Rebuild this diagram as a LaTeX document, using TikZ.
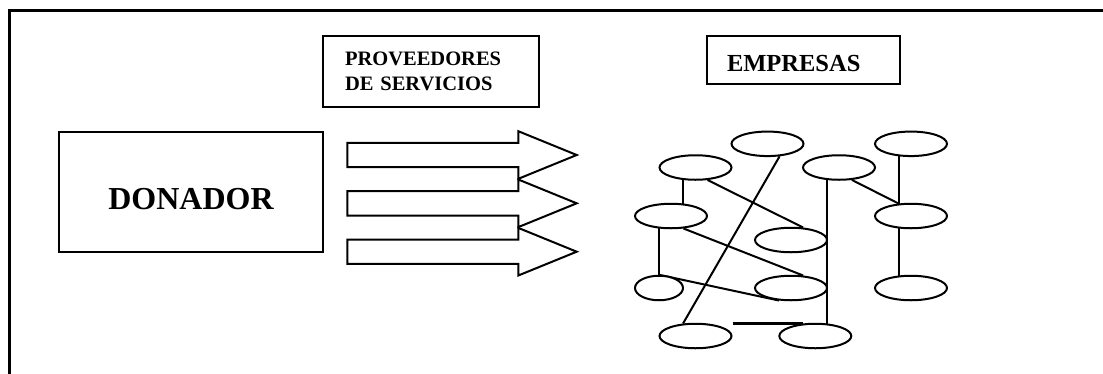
\documentclass[tikz,border=0pt]{standalone}
\usepackage{fontspec}
\setmainfont{Liberation Serif}
\usetikzlibrary{shapes.geometric}
\pgfdeclarelayer{background}
\pgfsetlayers{background,main}

\begin{document}
\begin{tikzpicture}[x=1pt,y=-1pt,
  line width=2pt,
  box/.style={draw, rectangle, inner sep=0pt},
  org/.style={draw, ellipse, fill=white, minimum width=72pt,
    minimum height=24.5pt, inner sep=0pt},
  smallorg/.style={org, minimum width=48pt},
  link/.style={line width=2pt},
  fatarrow/.pic={\draw[line width=2pt, line join=miter]
    (0,-12.2) -- (171,-12.2) -- (171,-23.8) -- (229.4,0) -- (171,23.8)
    -- (171,12.2) -- (0,12.2) -- cycle;}
]
\useasboundingbox (0,0) rectangle (1103,373);

% page frame (top and left edges)
\draw[line width=2.2pt] (9.5,380) -- (9.5,10.5) -- (1110,10.5);

% labelled boxes
\node[box, minimum width=264pt, minimum height=119.7pt, text height=35.6pt,
  font=\fontsize{32}{38}\selectfont\bfseries] (donador) at (191,192.2) {DONADOR};
\node[box, minimum width=215.7pt, minimum height=70.7pt, text width=172.3pt,
  inner xsep=21.7pt, align=left,
  font=\fontsize{20.5}{25}\selectfont\bfseries] (prov) at (431.2,71.3)
  {PROVEEDORES\\DE SERVICIOS};
\node[box, minimum width=193pt, minimum height=48pt, text width=153pt,
  inner xsep=20pt, align=left, text height=23.4pt,
  font=\fontsize{24.5}{29}\selectfont\bfseries] (emp) at (803.5,60) {EMPRESAS};

% three service arrows
\pic (arrowA) at (347.3,155) {fatarrow};
\pic (arrowB) at (347.3,203.3) {fatarrow};
\pic (arrowC) at (347.3,251.7) {fatarrow};

% network of companies
\node[org] (e1) at (767.5,143.8) {};
\node[org] (e2) at (911,143.8) {};
\node[org] (e3) at (695.5,167.5) {};
\node[org] (e4) at (839,167.5) {};
\node[org] (e5) at (671,216) {};
\node[org] (e6) at (911,216) {};
\node[org] (e7) at (791,240) {};
\node[smallorg] (e8) at (659,288) {};
\node[org] (e9) at (791,288) {};
\node[org] (e10) at (911,288) {};
\node[org] (e11) at (695.5,336) {};
\node[org] (e12) at (815.3,336) {};

\begin{pgfonlayer}{background}
\draw[link] (e1.-46) -- (e11.135);
\draw[link] ([xshift=12pt]e5.center) -- ([xshift=-12.5pt]e3.center);
\draw[link] (e3.-46) -- (e7.46);
\draw[link] ([xshift=-12pt]e5.center) -- (e8.center);
\draw[link] (e5.-45) -- (e9.46);
\draw[link] (e8.north) -- (e9.-134);
\draw[link] ([xshift=-11.7pt]e4.center) -- ([xshift=12pt]e12.center);
\draw[link, line width=2.4pt] ([yshift=12.7pt]e11.east) -- ([xshift=-12pt,yshift=12.7pt]e12.center);
\draw[link] (e4.-44) -- (e6.135);
\draw[link] ([xshift=-11.7pt]e2.center) -- ([xshift=-11.7pt]e10.center);
\end{pgfonlayer}
\end{tikzpicture}
\end{document}
